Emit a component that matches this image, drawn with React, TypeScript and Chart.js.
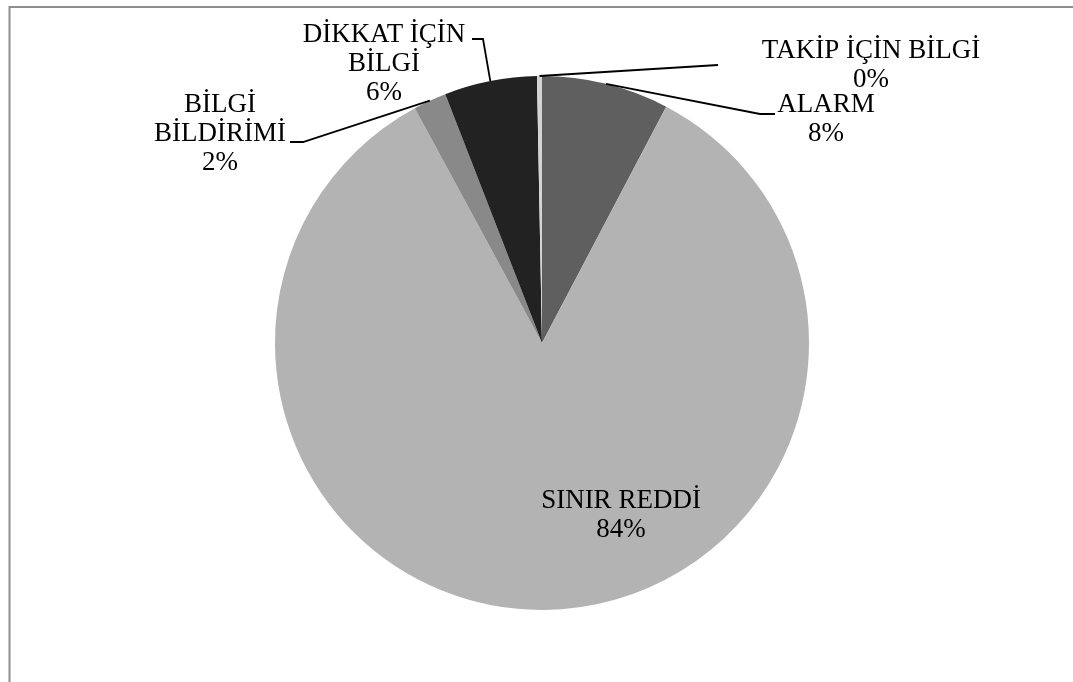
import React, { useEffect, useRef } from "react";
import { Chart, registerables } from "chart.js";

Chart.register(...registerables);

// ---- data ----
const categories = ["ALARM", "SINIR REDDİ", "BİLGİ BİLDİRİMİ", "DİKKAT İÇİN BİLGİ", "TAKİP İÇİN BİLGİ"];
const values = [7.7, 84.4, 2.0, 5.6, 0.3];
const colors = ["#5f5f5f", "#b3b3b3", "#898989", "#222222", "#d4d4d4"];
const labelLines = [["ALARM"], ["SINIR REDDİ"], ["BİLGİ", "BİLDİRİMİ"], ["DİKKAT İÇİN", "BİLGİ"], ["TAKİP İÇİN BİLGİ"]];

// ---- layout (label text anchors and leader elbows, in pixels) ----
const labelLayout = [
  { x: 826, y: 112, leader: [[760, 114], [775, 114]] },
  { x: 621, y: 508, leader: [] },
  { x: 220, y: 112, leader: [[303, 142], [290, 142]] },
  { x: 384, y: 42, leader: [[483, 39], [472, 39]] },
  { x: 871, y: 58, leader: [[718, 65]] },
];
const FONT = '27px "Liberation Serif", "Times New Roman", serif';
const LINE_H = 29;

const total = values.reduce((a, b) => a + b, 0);

const labelPlugin = {
  id: "pieLabels",
  beforeDraw(chart: any) {
    const ctx = chart.ctx;
    ctx.save();
    ctx.fillStyle = "#ffffff";
    ctx.fillRect(0, 0, chart.width, chart.height);
    ctx.fillStyle = "#8e8e8e";
    ctx.fillRect(9, 6, chart.width - 9, 2);
    ctx.fillRect(8.5, 6, 2, chart.height - 6);
    ctx.restore();
  },
  afterDatasetsDraw(chart: any) {
    const ctx = chart.ctx;
    const meta = chart.getDatasetMeta(0);
    ctx.save();
    ctx.font = FONT;
    ctx.textAlign = "center";
    ctx.textBaseline = "alphabetic";
    meta.data.forEach((arc: any, i: number) => {
      const lay = labelLayout[i];
      const p = arc.getProps(["x", "y", "startAngle", "endAngle", "outerRadius"], true);
      const mid = (p.startAngle + p.endAngle) / 2;
      const sx = p.x + Math.cos(mid) * p.outerRadius;
      const sy = p.y + Math.sin(mid) * p.outerRadius;
      if (lay.leader.length) {
        ctx.beginPath();
        ctx.strokeStyle = "#000000";
        ctx.lineWidth = 1.8;
        ctx.moveTo(sx, sy);
        lay.leader.forEach((pt) => ctx.lineTo(pt[0], pt[1]));
        ctx.stroke();
      }
      const pct = Math.round((values[i] / total) * 100) + "%";
      const lines = [...labelLines[i], pct];
      ctx.fillStyle = "#000000";
      lines.forEach((t, k) => ctx.fillText(t, lay.x, lay.y + k * LINE_H));
    });
    ctx.restore();
  },
};

export default function App() {
  const ref = useRef<HTMLCanvasElement | null>(null);
  useEffect(() => {
    if (!ref.current) return;
    const chart = new Chart(ref.current, {
      type: "pie",
      data: {
        labels: categories,
        datasets: [
          {
            data: values,
            backgroundColor: colors,
            borderWidth: 0,
          },
        ],
      },
      options: {
        responsive: false,
        animation: false,
        devicePixelRatio: 1,
        layout: { padding: { left: 275, right: 264, top: 76, bottom: 72 } },
        plugins: { legend: { display: false }, tooltip: { enabled: false } },
      },
      plugins: [labelPlugin],
    } as any);
    return () => chart.destroy();
  }, []);
  return (
    <div style={{ position: "fixed", left: 0, top: 0, width: 1073, height: 682, background: "#fff" }}>
      <canvas ref={ref} width={1073} height={682} style={{ width: 1073, height: 682, display: "block" }} />
    </div>
  );
}
